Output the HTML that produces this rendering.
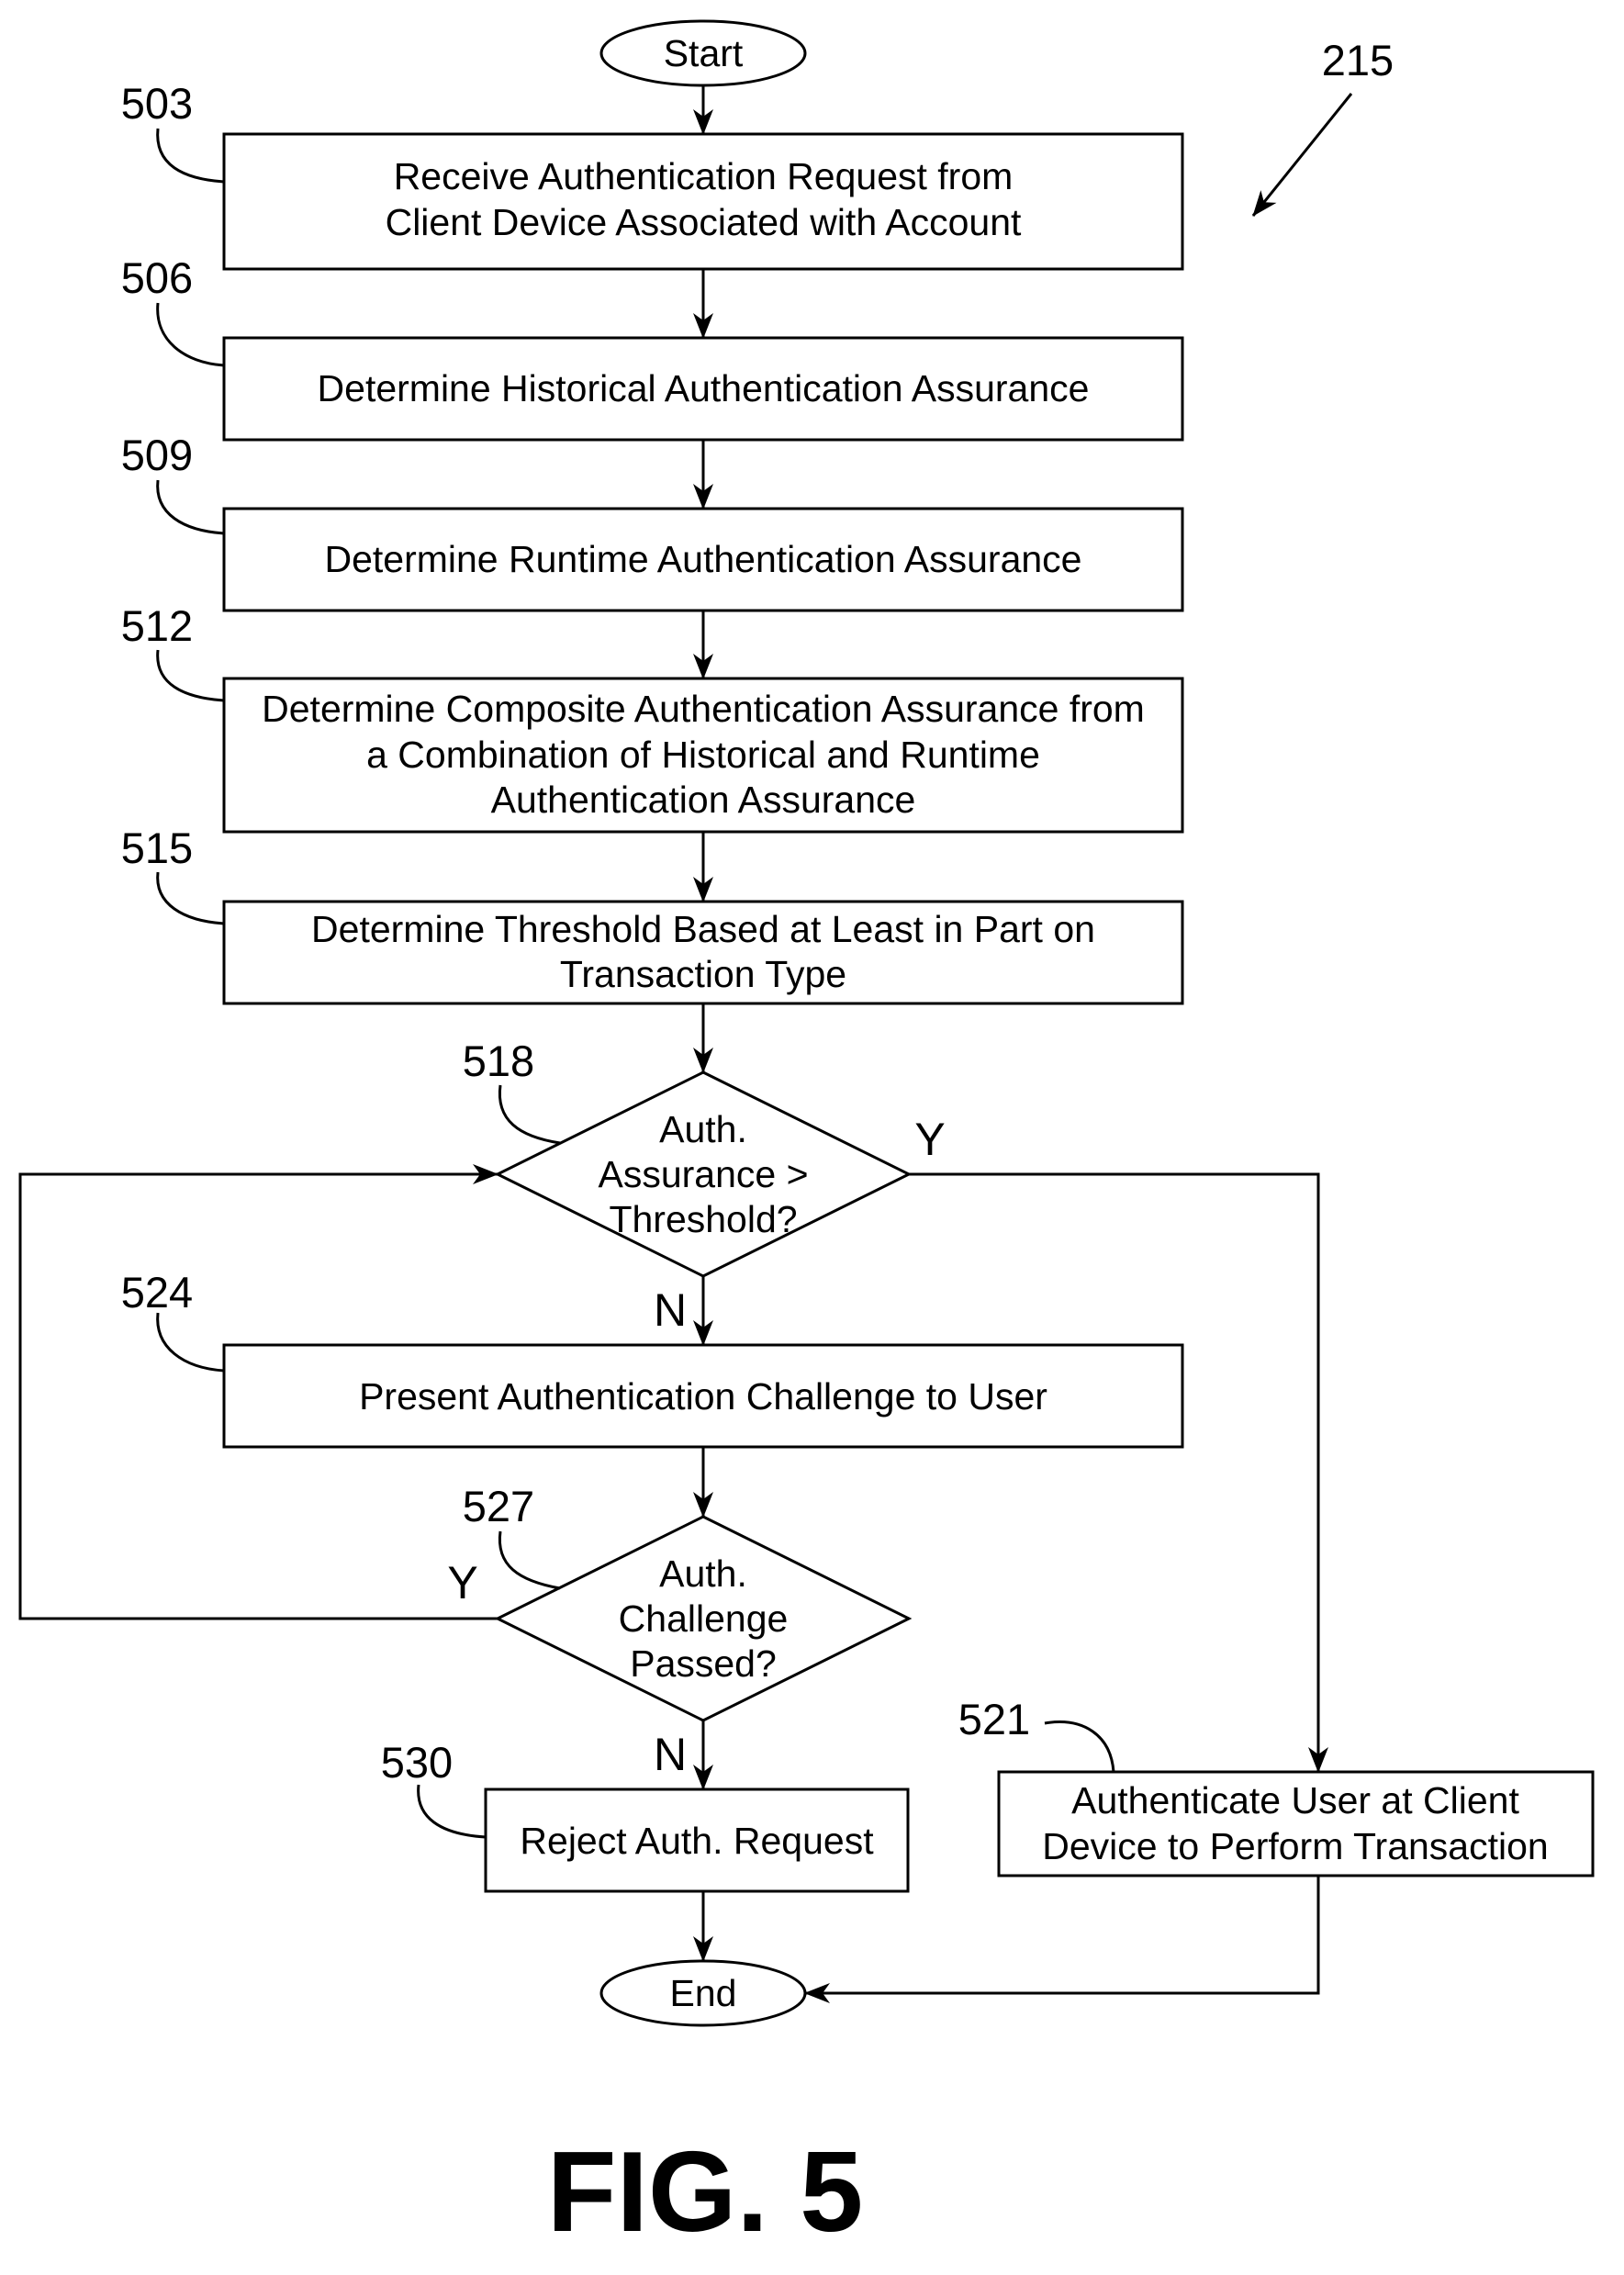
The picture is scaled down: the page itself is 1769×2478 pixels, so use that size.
<!DOCTYPE html>
<html><head><style>html,body{margin:0;padding:0;background:#fff}</style></head><body>
<svg width="1769" height="2473" viewBox="0 0 1769 2473" xmlns="http://www.w3.org/2000/svg" font-family="Liberation Sans, Arial, sans-serif">
<defs><marker id="b" markerWidth="28" markerHeight="22" refX="27" refY="11" orient="auto" markerUnits="userSpaceOnUse"><path d="M0,0 L28,11 L0,22 L8,11 Z" fill="#000"/></marker></defs>
<g fill="none" stroke="#000" stroke-width="3">
<ellipse cx="766" cy="58" rx="111" ry="35"/>
<rect x="244" y="146" width="1044" height="147"/>
<rect x="244" y="368" width="1044" height="111"/>
<rect x="244" y="554" width="1044" height="111"/>
<rect x="244" y="739" width="1044" height="167"/>
<rect x="244" y="982" width="1044" height="111"/>
<polygon points="766,1168 990,1279 766,1390 542,1279"/>
<rect x="244" y="1465" width="1044" height="111"/>
<polygon points="766,1652 990,1763 766,1874 542,1763"/>
<rect x="529" y="1949" width="460" height="111"/>
<rect x="1088" y="1930" width="647" height="113"/>
<ellipse cx="766" cy="2171" rx="111" ry="35"/>
<g marker-end="url(#b)">
<line x1="766" y1="93" x2="766" y2="146"/>
<line x1="766" y1="293" x2="766" y2="368"/>
<line x1="766" y1="479" x2="766" y2="554"/>
<line x1="766" y1="665" x2="766" y2="739"/>
<line x1="766" y1="906" x2="766" y2="982"/>
<line x1="766" y1="1093" x2="766" y2="1168"/>
<line x1="766" y1="1390" x2="766" y2="1465"/>
<line x1="766" y1="1576" x2="766" y2="1652"/>
<line x1="766" y1="1874" x2="766" y2="1949"/>
<line x1="766" y1="2060" x2="766" y2="2136"/>
<polyline points="542,1763 22,1763 22,1279 542,1279"/>
<polyline points="990,1279 1436,1279 1436,1930"/>
<polyline points="1436,2043 1436,2171 877,2171"/>
<line x1="1472" y1="102" x2="1365" y2="235"/>
</g>
<path d="M172,140 C168,180 200,195 244,198"/>
<path d="M172,330 C168,370 200,395 244,398"/>
<path d="M172,523 C168,560 200,578 244,581"/>
<path d="M172,708 C168,745 200,760 244,763"/>
<path d="M172,950 C168,985 200,1003 244,1006"/>
<path d="M172,1430 C168,1468 200,1490 244,1493"/>
<path d="M545,1182 C540,1220 565,1238 610,1245"/>
<path d="M545,1668 C540,1705 565,1722 610,1730"/>
<path d="M456,1944 C452,1980 480,1998 529,2001"/>
<path d="M1138,1877 C1180,1870 1210,1890 1213,1930"/>
</g>
<g font-size="41" text-anchor="middle" fill="#000">
<text x="766" y="72">Start</text>
<text x="766" y="206">Receive Authentication Request from</text>
<text x="766" y="256">Client Device Associated with Account</text>
<text x="766" y="437">Determine Historical Authentication Assurance</text>
<text x="766" y="623">Determine Runtime Authentication Assurance</text>
<text x="766" y="786">Determine Composite Authentication Assurance from</text>
<text x="766" y="836">a Combination of Historical and Runtime</text>
<text x="766" y="885">Authentication Assurance</text>
<text x="766" y="1026">Determine Threshold Based at Least in Part on</text>
<text x="766" y="1075">Transaction Type</text>
<text x="766" y="1244">Auth.</text>
<text x="766" y="1293">Assurance &gt;</text>
<text x="766" y="1342">Threshold?</text>
<text x="766" y="1535">Present Authentication Challenge to User</text>
<text x="766" y="1728">Auth.</text>
<text x="766" y="1777">Challenge</text>
<text x="766" y="1826">Passed?</text>
<text x="759" y="2019">Reject Auth. Request</text>
<text x="1411" y="1975">Authenticate User at Client</text>
<text x="1411" y="2025">Device to Perform Transaction</text>
<text x="766" y="2185">End</text>
<g font-size="47">
<text x="171" y="129">503</text>
<text x="171" y="319">506</text>
<text x="171" y="512">509</text>
<text x="171" y="698">512</text>
<text x="171" y="940">515</text>
<text x="543" y="1172">518</text>
<text x="171" y="1424">524</text>
<text x="543" y="1657">527</text>
<text x="454" y="1936">530</text>
<text x="1083" y="1889">521</text>
<text x="1479" y="82">215</text>
</g>
<g font-size="50">
<text x="1013" y="1258">Y</text>
<text x="730" y="1444">N</text>
<text x="504" y="1741">Y</text>
<text x="730" y="1928">N</text>
</g>
<text x="768" y="2430" font-size="124" font-weight="bold">FIG. 5</text>
</g>
</svg>
</body></html>
